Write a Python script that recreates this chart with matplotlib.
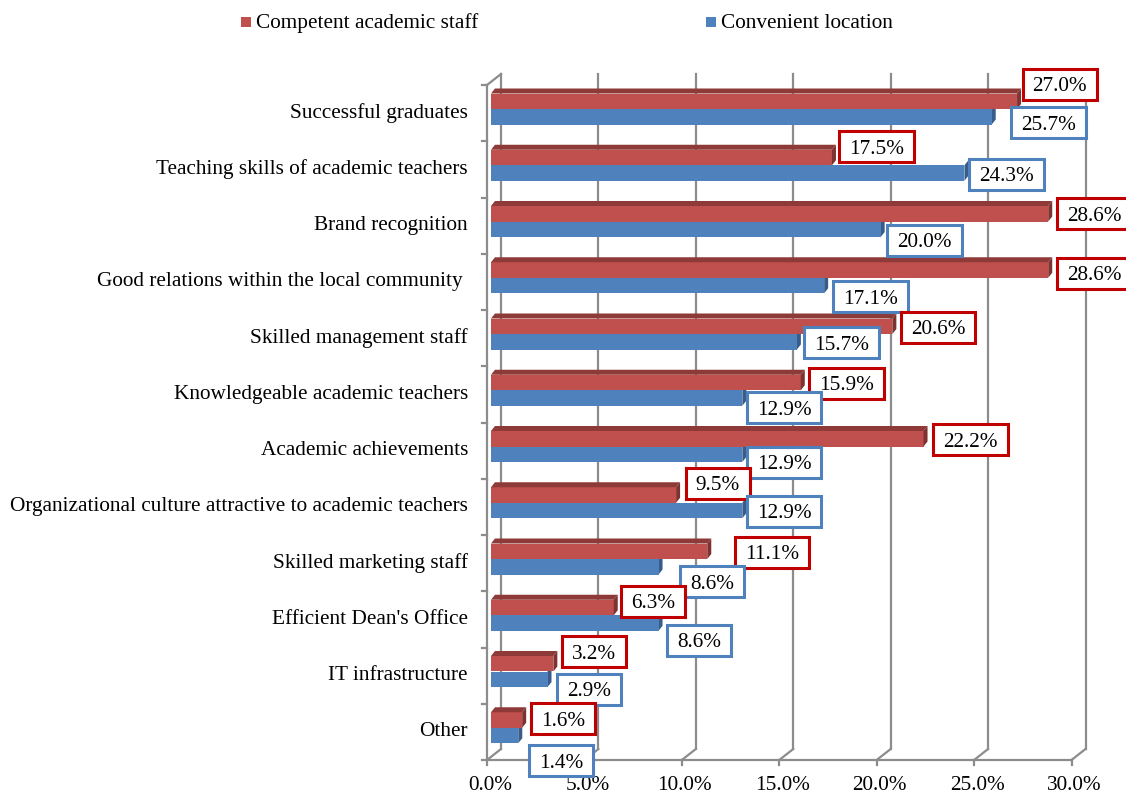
import numpy as np
import matplotlib.pyplot as plt
from matplotlib.patches import Polygon, Rectangle
from matplotlib.path import Path

plt.rcParams['font.family'] = ['Liberation Serif', 'DejaVu Serif']

categories = ["Successful graduates",
              "Teaching skills of academic teachers",
              "Brand recognition",
              "Good relations within the local community ",
              "Skilled management staff",
              "Knowledgeable academic teachers",
              "Academic achievements",
              "Organizational culture attractive to academic teachers",
              "Skilled marketing staff",
              "Efficient Dean's Office",
              "IT infrastructure",
              "Other"]
competent_staff = [27.0, 17.5, 28.6, 28.6, 20.6, 15.9, 22.2, 9.5, 11.1, 6.3, 3.2, 1.6]
convenient_location = [25.7, 24.3, 20.0, 17.1, 15.7, 12.9, 12.9, 12.9, 8.6, 8.6, 2.9, 1.4]
x_ticks = [0, 5, 10, 15, 20, 25, 30]

# label box nudges in pixels (right, down), like Excel's placement
red_nudge = [(4, -17), (6, -11), (7, 0), (7, 3), (7, 1), (7, 1), (8, 1),
             (8, -12), (26, 1), (6, -6), (7, -12), (7, -1)]
blue_nudge = [(18, 6), (3, 1), (5, 11), (7, 11), (6, 1), (3, 10), (3, 8),
              (3, 1), (20, 15), (7, 17), (8, 10), (9, 25)]

RED, RED_TOP, RED_SIDE = '#C0504D', '#8E3A38', '#7F3230'
BLUE, BLUE_SIDE = '#4F81BD', '#385D8A'
GRID = '#8C8C8C'
FS = 15.3

# box padding in pixels: left/right, top, bottom
PAD_X, PAD_T, PAD_B = 10, 8.5, 3.5


def label_box(x0, y0, width, height, mutation_size):
    x0, x1 = x0 - PAD_X, x0 + width + PAD_X
    y0, y1 = y0 - PAD_B, y0 + height + PAD_T
    return Path([(x0, y0), (x1, y0), (x1, y1), (x0, y1), (x0, y0)], closed=True)


W, H = 1126, 796
fig = plt.figure(figsize=(W / 100, H / 100), dpi=100)
x0_px, x1_px, y0_px, y1_px = 487, 1071.5, 85, 760
ax = fig.add_axes([x0_px / W, 1 - y1_px / H, (x1_px - x0_px) / W, (y1_px - y0_px) / H])
n = len(categories)
ax.set_xlim(0, 30)
ax.set_ylim(n, 0)
ax.axis('off')

# pixel -> data unit helpers
sx = 30 / (x1_px - x0_px)
sy = n / (y1_px - y0_px)
def px(v):
    return v * sx
def py(v):
    return v * sy

# back wall gridlines plus the diagonals to the front axis
bdx, bdy = px(14), py(11)
for t in x_ticks:
    ax.plot([t + bdx, t + bdx], [n - bdy, -bdy], color=GRID, lw=1.6, zorder=1, clip_on=False)
    ax.plot([t, t + bdx], [n, n - bdy], color=GRID, lw=1.6, zorder=1, clip_on=False)
    ax.plot([t, t], [n, n + py(5)], color=GRID, lw=1.6, zorder=1, clip_on=False)
ax.plot([0, 30], [n, n], color=GRID, lw=1.6, zorder=1, clip_on=False)
ax.plot([0, 0], [0, n], color=GRID, lw=1.6, zorder=1, clip_on=False)
ax.plot([0, bdx], [0, -bdy], color=GRID, lw=1.6, zorder=1, clip_on=False)
for k in range(n + 1):
    ax.plot([0, -px(5)], [k, k], color=GRID, lw=1.6, zorder=1, clip_on=False)

# 3D-looking bars
start = px(4)
ddx, ddy = px(4), py(5)
for i in range(n):
    r_top, r_bot = i + py(8.5), i + py(24)
    b_top, b_bot = r_bot, i + py(39.5)
    rv = start + competent_staff[i]
    bv = start + convenient_location[i]
    # blue bar
    ax.add_patch(Rectangle((start, b_top), bv - start, b_bot - b_top, fc=BLUE, ec='none', zorder=3))
    ax.add_patch(Polygon([(bv, b_top), (bv + ddx, b_top - ddy), (bv + ddx, b_bot - ddy), (bv, b_bot)],
                         fc=BLUE_SIDE, ec='none', zorder=2))
    # red bar
    ax.add_patch(Rectangle((start, r_top), rv - start, r_bot - r_top, fc=RED, ec='none', zorder=4))
    ax.add_patch(Polygon([(start, r_top), (start + ddx, r_top - ddy), (rv + ddx, r_top - ddy), (rv, r_top)],
                         fc=RED_TOP, ec='none', zorder=4))
    ax.add_patch(Polygon([(rv, r_top), (rv + ddx, r_top - ddy), (rv + ddx, r_bot - ddy), (rv, r_bot)],
                         fc=RED_SIDE, ec='none', zorder=4))

    # value labels
    for val, yc, (dx, dy), ec in [(competent_staff[i], (r_top + r_bot) / 2, red_nudge[i], '#C00000'),
                                  (convenient_location[i], (b_top + b_bot) / 2, blue_nudge[i], '#4F81BD')]:
        ax.annotate(f"{val:.1f}%", xy=(start + val, yc),
                    xytext=(dx + PAD_X + 1.5, -dy - (PAD_T - PAD_B) / 2),
                    textcoords='offset pixels', ha='left', va='center', fontsize=FS,
                    bbox=dict(boxstyle=label_box, fc='white', ec=ec, lw=2.2),
                    zorder=6, annotation_clip=False)

    ax.text(-px(19), i + 0.5, categories[i], ha='right', va='center', fontsize=FS)

for t in x_ticks:
    ax.text(t + px(3), n + py(26), f"{t:.1f}%", ha='center', va='center', fontsize=FS)

# legend
for lx, col, lab in [(241, RED, "Competent academic staff"), (706, BLUE, "Convenient location")]:
    fig.add_artist(Rectangle((lx / W, 1 - 27 / H), 10 / W, 10 / H, transform=fig.transFigure,
                             fc=col, ec='none'))
    fig.text((lx + 15) / W, 1 - 23 / H, lab, ha='left', va='center', fontsize=FS)

fig.savefig('out.png', dpi=100)
